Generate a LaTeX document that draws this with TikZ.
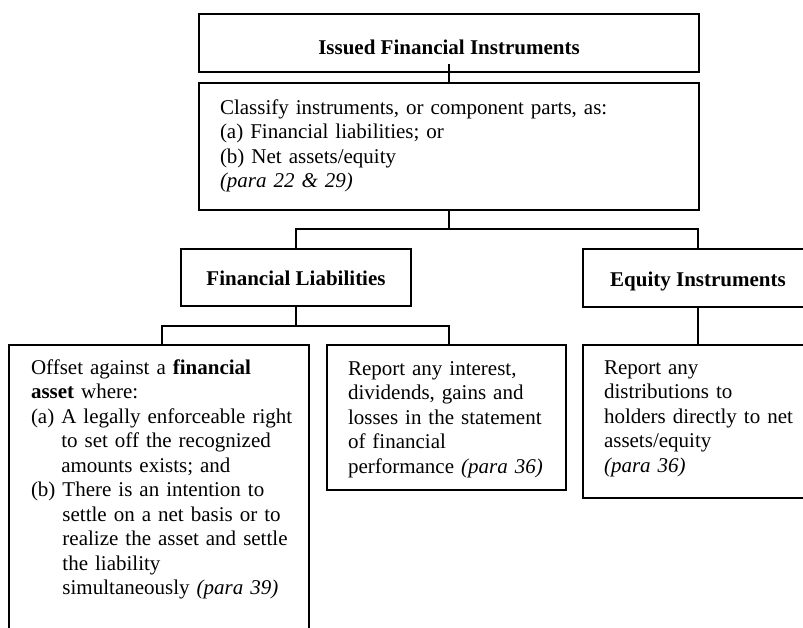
\documentclass[tikz,border=0pt]{standalone}
\usepackage{fontspec}
\setmainfont{Liberation Serif}
\begin{document}
\begin{tikzpicture}[x=1pt,y=-1pt,
  box/.style={draw, line width=2pt, rectangle, inner sep=0pt, outer sep=0pt, anchor=north west},
  conn/.style={line width=1.4pt},
  txt/.style={inner sep=0pt, outer sep=0pt, anchor=base west, text width=400pt, align=left, font=\fontsize{21}{24.5}\selectfont},
  head/.style={box, font=\bfseries\fontsize{21}{24.5}\selectfont}
]
\useasboundingbox (0,0) rectangle (803,627);
\clip (0,0) rectangle (803,627);

% boxes
\node[head, minimum width=500pt, text height=40pt, text depth=18pt] (top) at (199,14) {Issued Financial Instruments};
\node[box, minimum width=500pt, minimum height=127pt] (cls) at (199,83) {};
\node[head, minimum width=230pt, text height=36pt, text depth=21pt] (fl) at (181,249) {Financial Liabilities};
\node[head, minimum width=230pt, text height=37pt, text depth=21pt] (ei) at (583,249) {Equity Instruments};
\node[box, minimum width=300pt, minimum height=300pt] (b1) at (9,345) {};
\node[box, minimum width=239pt, minimum height=145pt] (b2) at (327,345) {};
\node[box, minimum width=230pt, minimum height=153pt] (b3) at (583,345) {};

% texts
\node[txt] (clsT) at (220,114) {Classify instruments, or component parts, as:\\(a) Financial liabilities; or\\(b) Net assets/equity\\\textit{(para 22 \& 29)}};
\node[txt] (b1T) at (31,374) {Offset against a \textbf{financial}\\\textbf{asset} where:\\(a) A legally enforceable right\\\hphantom{(a) }to set off the recognized\\\hphantom{(a) }amounts exists; and\\(b) There is an intention to\\\hphantom{(b) }settle on a net basis or to\\\hphantom{(b) }realize the asset and settle\\\hphantom{(b) }the liability\\\hphantom{(b) }simultaneously \textit{(para 39)}};
\node[txt] (b2T) at (348,375) {Report any interest,\\dividends, gains and\\losses in the statement\\of financial\\performance \textit{(para 36)}};
\node[txt] (b3T) at (604,374) {Report any\\distributions to\\holders directly to net\\assets/equity\\\textit{(para 36)}};

% connectors
\coordinate (c0) at (449,64);
\draw[conn] (c0) -- (cls.north);
\coordinate (j1) at (449,229);
\draw[conn] (cls.south) -- (j1);
\draw[conn] (fl.north) |- (ei.north |- j1) -- (ei.north);
\coordinate (j2) at (296,326);
\draw[conn] (fl.south) -- (j2);
\draw[conn] ([xshift=3pt]b1.north) |- ([xshift=2.5pt]b2.north |- j2) -- ([xshift=2.5pt]b2.north);
\draw[conn] (ei.south) -- (b3.north);
\end{tikzpicture}
\end{document}
